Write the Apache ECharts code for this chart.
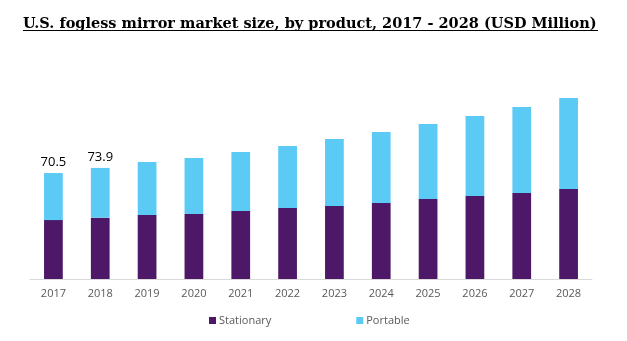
<!DOCTYPE html>
<html>
<head>
<meta charset="utf-8">
<script src="https://cdn.jsdelivr.net/npm/echarts@6/dist/echarts.min.js"></script>
<style>html,body{margin:0;padding:0;background:#fff}#c{width:627px;height:341px}</style>
</head>
<body>
<div id="c"></div>
<script>
const years = ['2017','2018','2019','2020','2021','2022','2023','2024','2025','2026','2027','2028'];
const stationary = [39.2, 40.8, 42.6, 43.2, 45.2, 47.2, 48.6, 50.5, 53.2, 55.2, 57.2, 59.9];
const portable = [31.3, 33.1, 35.2, 37.3, 39.3, 41.3, 44.5, 47.3, 49.9, 53.2, 57.2, 60.5];
const totalLabels = ['70.5', '73.9', '', '', '', '', '', '', '', '', '', ''];
const titleText = 'U.S. fogless mirror market size, by product, 2017 - 2028 (USD Million)';

const chart = echarts.init(document.getElementById('c'), null, {renderer: 'canvas'});
chart.setOption({
  animation: false,
  backgroundColor: '#fff',
  title: {
    text: titleText,
    left: 18,
    top: 12,
    textStyle: {fontFamily: 'DejaVu Serif', fontWeight: 'bold', fontSize: 14.5, color: '#000'}
  },
  graphic: [{
    type: 'line', shape: {x1: 23, y1: 30.5, x2: 598, y2: 30.5},
    style: {stroke: '#000', lineWidth: 1}
  }],
  legend: {
    bottom: 10, left: 204,
    itemWidth: 7, itemHeight: 7, itemGap: 85,
    icon: 'rect',
    textStyle: {fontFamily: 'Open Sans', fontSize: 11, color: '#595959', padding: [0,0,0,-2]},
    data: ['Stationary', 'Portable']
  },
  grid: {left: 30, right: 35, top: 38.5, bottom: 62},
  xAxis: {
    type: 'category', data: years,
    axisLine: {lineStyle: {color: '#D9D9D9', width: 1}},
    axisTick: {show: false},
    axisLabel: {fontFamily: 'Open Sans', fontSize: 11, color: '#595959', margin: 9}
  },
  yAxis: {type: 'value', min: 0, max: 160, show: false, splitLine: {show: false}},
  series: [
    {name: 'Stationary', type: 'bar', stack: 't', data: stationary, barWidth: '40%',
     itemStyle: {color: '#4D1868'}},
    {name: 'Portable', type: 'bar', stack: 't', data: portable,
     itemStyle: {color: '#5BCAF5'},
     label: {show: true, position: 'top', distance: 4,
       fontFamily: 'Open Sans', fontSize: 13, color: '#000',
       formatter: p => totalLabels[p.dataIndex]}}
  ]
});
</script>
</body>
</html>
